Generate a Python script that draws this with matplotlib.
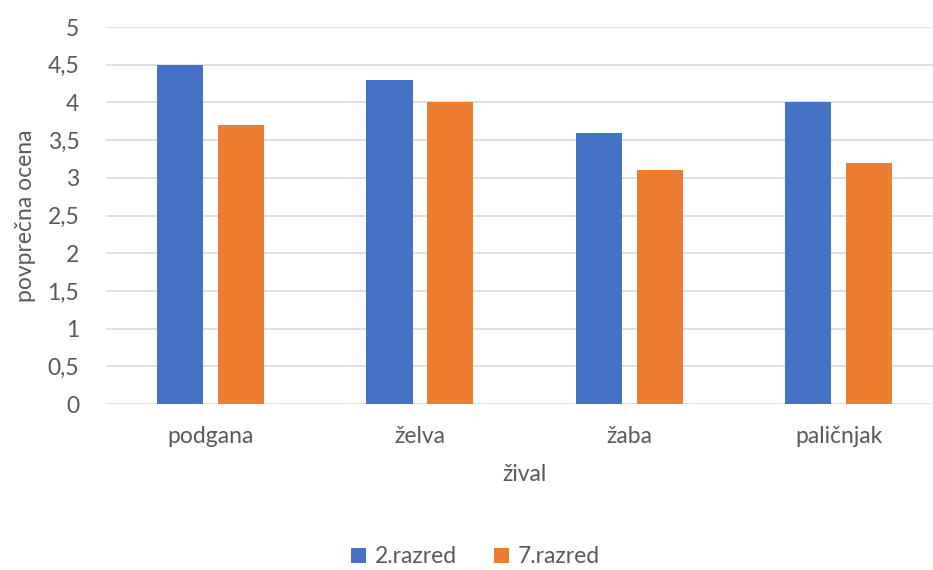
import matplotlib.pyplot as plt
import numpy as np

# povprečne ocene po živalih
zivali = ['podgana', 'želva', 'žaba', 'paličnjak']
razred2 = [4.5, 4.3, 3.6, 4.0]
razred7 = [3.7, 4.0, 3.1, 3.2]
yticks = [0, 0.5, 1, 1.5, 2, 2.5, 3, 3.5, 4, 4.5, 5]

plt.rcParams['font.family'] = ['Lato', 'DejaVu Sans']
siva = '#595959'

fig = plt.figure(figsize=(9.33, 5.70), dpi=100)
ax = fig.add_axes([0.1133, 0.2912, 0.898, 0.6614])

x = np.arange(len(zivali))
sirina = 0.22
ax.bar(x - 0.145, razred2, sirina, color='#4472C4', label='2.razred', zorder=3)
ax.bar(x + 0.145, razred7, sirina, color='#ED7D31', label='7.razred', zorder=3)

ax.set_xlim(-0.5, len(zivali) - 0.5)
ax.set_ylim(0, 5)
ax.set_yticks(yticks)
ax.set_yticklabels([('%g' % v).replace('.', ',') for v in yticks])
ax.set_xticks(x)
ax.set_xticklabels(zivali)
ax.tick_params(axis='both', length=0, labelsize=16.5, colors=siva)
ax.tick_params(axis='y', pad=19)
ax.tick_params(axis='x', pad=16)
ax.grid(axis='y', color='#D9D9D9', linewidth=1.2, zorder=0)
for s in ax.spines.values():
    s.set_visible(False)

ax.set_ylabel('povprečna ocena', fontsize=16.5, color=siva, labelpad=8)
ax.set_xlabel('žival', fontsize=16.5, color=siva, labelpad=12)

fig.legend(loc='center', bbox_to_anchor=(0.51, 0.023), ncol=2, frameon=False,
           fontsize=16.5, labelcolor=siva, handlelength=0.65, handleheight=0.65,
           handletextpad=0.4, columnspacing=1.6)

fig.savefig('out.png', dpi=100)
